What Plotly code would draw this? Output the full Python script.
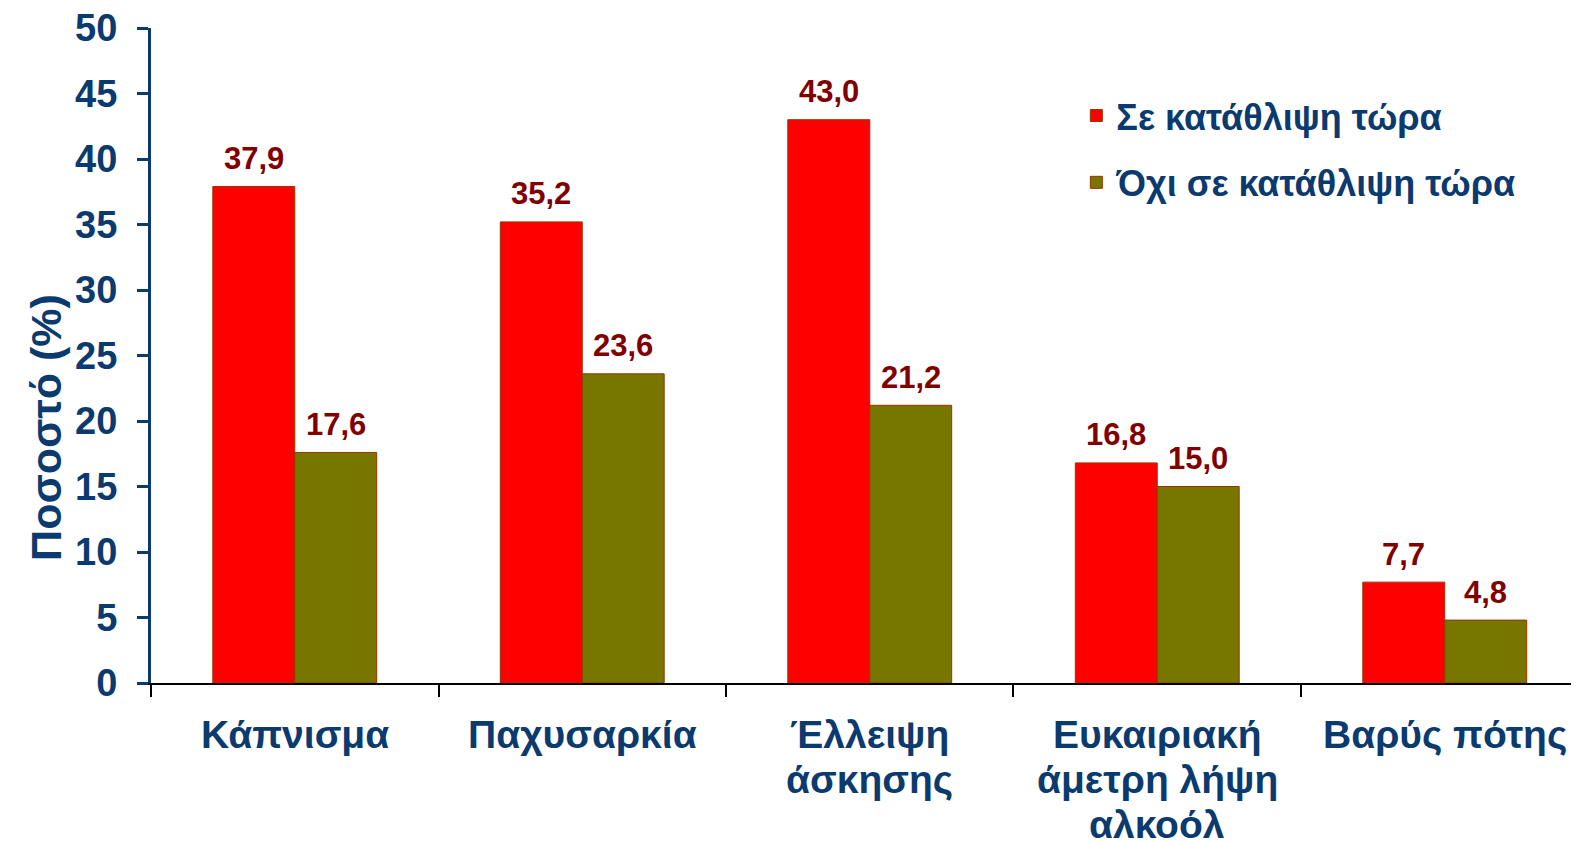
import plotly.graph_objects as go

categories = ["Κάπνισμα", "Παχυσαρκία", "Έλλειψη<br>άσκησης",
              "Ευκαιριακή<br>άμετρη λήψη<br>αλκοόλ", "Βαρύς πότης"]
depressed = [37.9, 35.2, 43.0, 16.8, 7.7]
not_depressed = [17.6, 23.6, 21.2, 15.0, 4.8]
series_names = ["Σε κατάθλιψη τώρα", "Όχι σε κατάθλιψη τώρα"]
y_ticks = [0, 5, 10, 15, 20, 25, 30, 35, 40, 45, 50]

navy = "#0b3a6e"
label_red = "#800000"
font_family = "Arial, Liberation Sans, sans-serif"
bargap = 0.43

def fmt(v):
    return f"{v:.1f}".replace(".", ",")

series = [(series_names[0], depressed, "#ff0000"),
          (series_names[1], not_depressed, "#777700")]

fig = go.Figure()
for i, (name, vals, color) in enumerate(series):
    fig.add_trace(go.Bar(
        x=categories, y=vals, name=name, legendgroup=f"g{i}",
        marker=dict(color=color, line=dict(color="#993300", width=1)),
    ))
    # value labels above each bar (grouped bar centre = index -/+ quarter of bar span)
    offset = (1 - bargap) / 4 * (1 if i else -1)
    for k, v in enumerate(vals):
        fig.add_annotation(
            x=k + offset, y=v, xref="x", yref="y", text=fmt(v), showarrow=False,
            yanchor="middle", yshift=28,
            font=dict(size=31, color=label_red, family=font_family, weight="bold"),
        )

# category labels drawn line by line so the line spacing matches the original
for cat in categories:
    for j, line in enumerate(cat.split("<br>")):
        fig.add_annotation(
            x=cat, y=0, xref="x", yref="y", text=line, showarrow=False,
            yanchor="middle", yshift=-51 - 45 * j,
            font=dict(size=39, color=navy, family=font_family, weight="bold"),
        )

fig.add_annotation(
    x=-0.074, y=0.39, xref="paper", yref="paper", text="Ποσοστό (%)",
    textangle=-90, showarrow=False, xanchor="center", yanchor="middle",
    font=dict(size=43, color=navy, family=font_family, weight="bold"),
)

fig.update_layout(
    width=1571, height=834,
    barmode="group", bargap=bargap, bargroupgap=0,
    plot_bgcolor="white", paper_bgcolor="white",
    margin=dict(l=143, r=0, t=20, b=159),
    font=dict(family=font_family, color=navy),
    legend=dict(x=0.648, y=0.912, xanchor="left", yanchor="top",
                font=dict(size=36, color=navy, family=font_family, weight="bold"),
                itemwidth=30, tracegroupgap=17, bgcolor="rgba(0,0,0,0)"),
    showlegend=True,
)
fig.update_yaxes(
    range=[0, 50], tickvals=y_ticks, showgrid=False, zeroline=False,
    showline=True, linecolor=navy, linewidth=3, automargin=False,
    ticks="outside", ticklen=11, tickwidth=3, tickcolor=navy, ticklabelstandoff=12,
    ticklabeloverflow="allow",
    tickfont=dict(size=38, color=navy, family=font_family, weight="bold"),
)
fig.update_xaxes(
    range=[-0.5, 4.467],
    showline=True, linecolor="black", linewidth=2, automargin=False,
    ticks="outside", tickson="boundaries", ticklen=12, tickwidth=2, tickcolor="black",
    showticklabels=False, showgrid=False,
)

fig.write_html("out.html")
